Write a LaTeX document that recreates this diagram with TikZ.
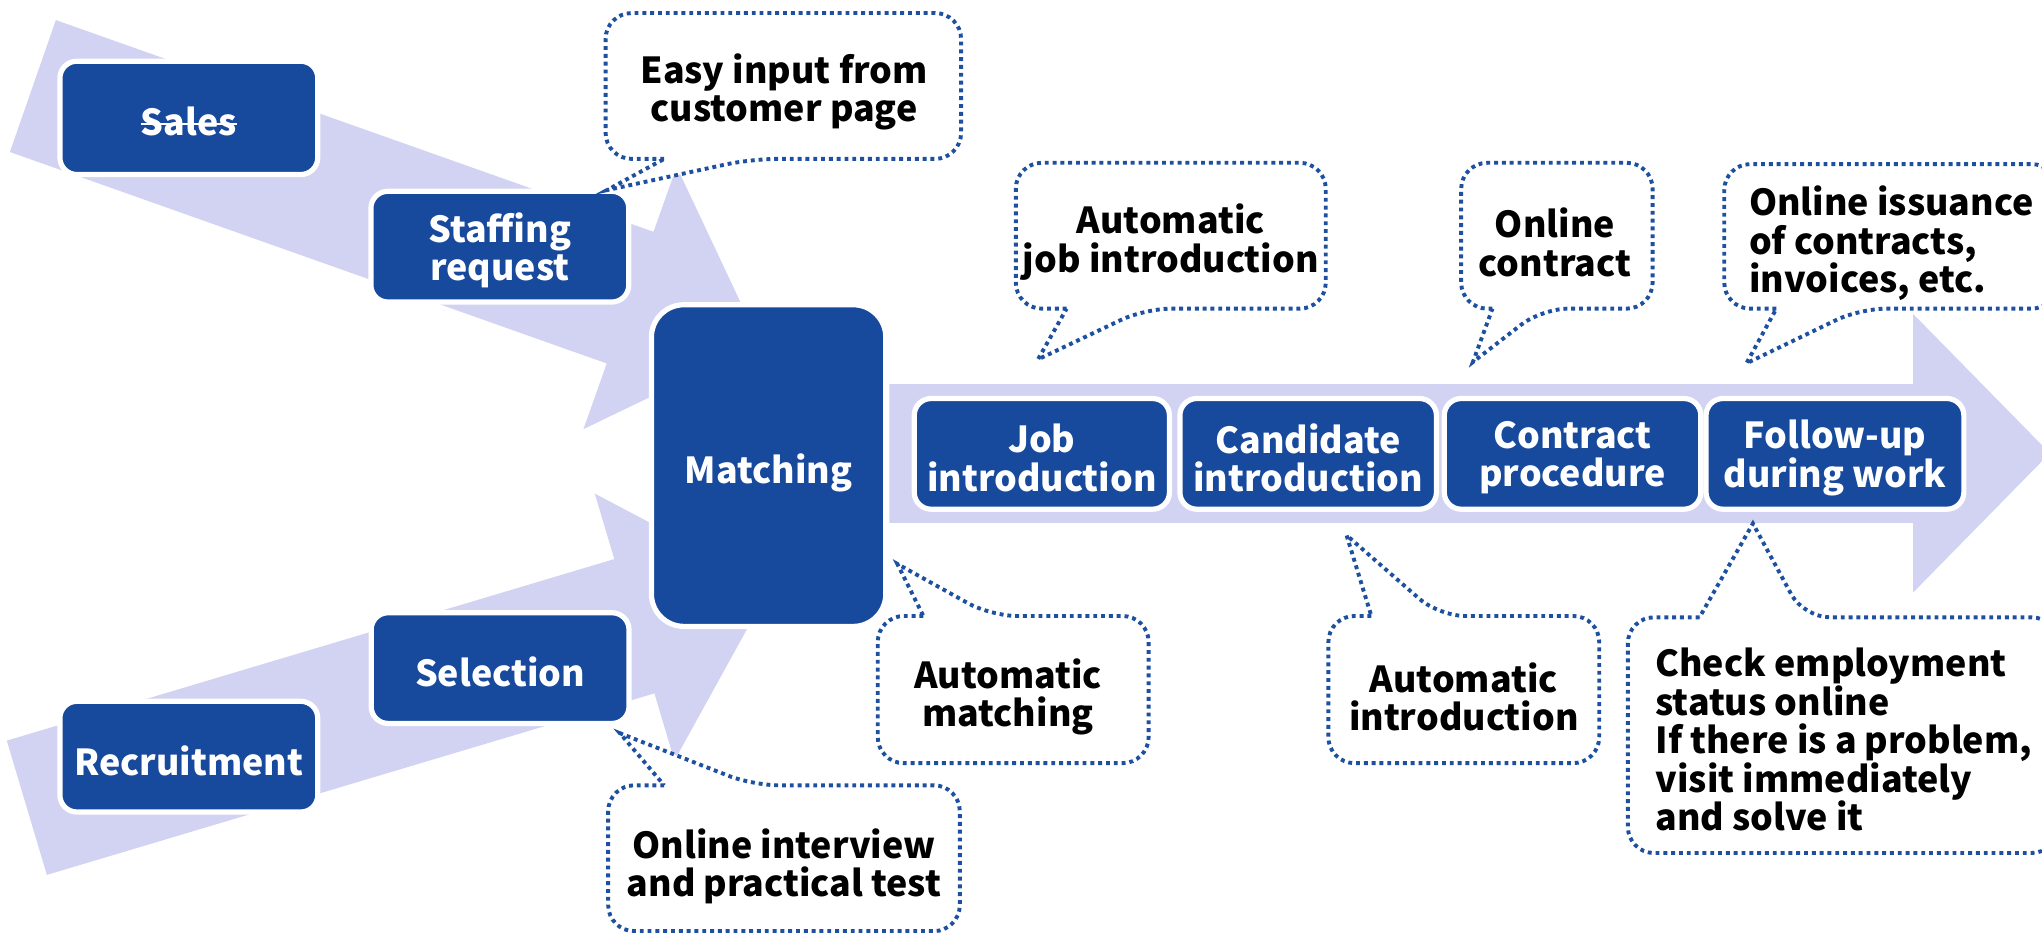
\documentclass[tikz,border=0pt]{standalone}
\usepackage{fontspec}
\setmainfont{Noto Sans CJK JP}
\definecolor{boxblue}{RGB}{23,73,156}
\definecolor{bandcol}{RGB}{210,210,242}
\definecolor{dotblue}{RGB}{30,80,160}
\tikzset{
  bx/.style={fill=boxblue, draw=white, line width=4pt, rounded corners=13pt, inner sep=0pt},
  bxtxt/.style={text=white, align=center, inner sep=0pt, font=\bfseries\fontsize{27.5}{29.5}\selectfont},
  bub/.style={draw=dotblue, fill=white, line width=3pt, dash pattern=on 3pt off 3pt},
  btxt/.style={text=black, align=center, inner sep=0pt, font=\bfseries\fontsize{27.5}{29.5}\selectfont},
  bandfill/.style={fill=bandcol}
}
\begin{document}
\begin{tikzpicture}[x=1pt,y=-1pt]
\useasboundingbox (0,0) rectangle (1568,716);
% big arrows
\path[bandfill] (42.9,15.4) -- (501.8,178) -- (519.6,128) -- (583.7,264.2) -- (448,329.5) -- (465.9,279.1) -- (7.6,116.7) -- cycle;
\path[bandfill] (5.2,568.7) -- (471.7,429.3) -- (456.7,379) -- (591.7,450.3) -- (517.9,584) -- (502.5,532.4) -- (36,671.8) -- cycle;
\path[bandfill] (683,295) -- (1469,295) -- (1469,241) -- (1574,348) -- (1469,455) -- (1469,401.5) -- (683,401.5) -- cycle;
% boxes
\node[bx, minimum width=198pt, minimum height=87pt] (sales) at (145,90.5) {};
\node[bxtxt] (salestxt) at ([yshift=-3pt]sales.center) {Sales};
\draw[white, line width=2pt] ([yshift=9pt]salestxt.base west) -- ([yshift=9pt]salestxt.base east);
\node[bx, minimum width=198pt, minimum height=85pt] (staff) at (383.8,189.4) {};
\node[bxtxt] (stafftxt) at ([yshift=-3pt]staff.center) {Staffing\\request};
\node[bx, minimum width=180pt, minimum height=247pt, rounded corners=25pt] (match) at (590.2,357.5) {};
\node[bxtxt] (matchtxt) at ([yshift=-6pt]match.center) {Matching};
\node[bx, minimum width=198pt, minimum height=85pt] (select) at (384,513) {};
\node[bxtxt] (selecttxt) at ([yshift=-3pt]select.center) {Selection};
\node[bx, minimum width=198pt, minimum height=85pt] (recruit) at (145,581) {};
\node[bxtxt] (recruittxt) at ([yshift=-3pt]recruit.center) {Recruitment};
\node[bx, minimum width=196pt, minimum height=85pt] (job) at (800,348.5) {};
\node[bxtxt] (jobtxt) at ([yshift=-3pt]job.center) {Job\\introduction};
\node[bx, minimum width=197pt, minimum height=85pt] (cand) at (1004.5,348.5) {};
\node[bxtxt] (candtxt) at ([yshift=-3pt]cand.center) {Candidate\\introduction};
\node[bx, minimum width=197pt, minimum height=85pt] (contr) at (1207.5,348.5) {};
\node[bxtxt] (contrtxt) at ([yshift=-3pt]contr.center) {Contract\\procedure};
\node[bx, minimum width=198pt, minimum height=85pt] (follow) at (1409,348.5) {};
\node[bxtxt] (followtxt) at ([yshift=-3pt]follow.center) {Follow-up\\during work};
% bubbles
\draw[bub] (510,122) [rounded corners=20pt] -- (465,122) -- (465,10) -- (738,10) -- (738,122) -- (577,122) [sharp corners] -- (466,146) -- cycle;
\node[btxt] (t1) at (602,70.5) {Easy input from\\customer page};
\draw[bub] (819,237) [rounded corners=20pt] -- (780,237) -- (780,125) -- (1018,125) -- (1018,237) -- (879,237) [sharp corners] -- (797,276) -- cycle;
\node[btxt] (t2) at (899,186) {Automatic\\job introduction};
\draw[bub] (1146,237) [rounded corners=20pt] -- (1122,237) -- (1122,125) -- (1269,125) -- (1269,237) -- (1184,237) [sharp corners] -- (1131,278) -- cycle;
\node[btxt] (t3) at (1194,186) {Online\\contract};
\draw[bub] (1364,237) [rounded corners=20pt] -- (1324,237) -- (1324,126) -- (1580,126) -- (1580,237) -- (1428,237) [sharp corners] -- (1341,279) -- cycle;
\node[btxt, align=left, anchor=west] (t4) at (1343,187) {Online issuance\\of contracts,\\invoices, etc.};
\draw[bub] (709,473) [rounded corners=20pt] -- (674,473) -- (674,586) -- (882,586) -- (882,473) -- (761,473) [sharp corners] -- (689,433) -- cycle;
\node[btxt] (t5) at (774,535) {Automatic\\matching};
\draw[bub] (1053,473) [rounded corners=20pt] -- (1020,473) -- (1020,586) -- (1228,586) -- (1228,473) -- (1105,473) [sharp corners] -- (1034,411) -- cycle;
\node[btxt] (t6) at (1124,535) {Automatic\\introduction};
\draw[bub] (1305,474) [rounded corners=20pt] -- (1250,474) -- (1250,655) -- (1580,655) -- (1580,474) -- (1385,474) [sharp corners] -- (1346,402) -- cycle;
\node[btxt, align=left, anchor=west] (t7) at (1271,568) {Check employment\\status online\\If there is a problem,\\visit immediately\\and solve it};
\draw[bub] (510,603) [rounded corners=20pt] -- (467,603) -- (467,715) -- (737,715) -- (737,603) -- (578,603) [sharp corners] -- (476,563) -- cycle;
\node[btxt] (t8) at (602,665) {Online interview\\and practical test};
\end{tikzpicture}
\end{document}
